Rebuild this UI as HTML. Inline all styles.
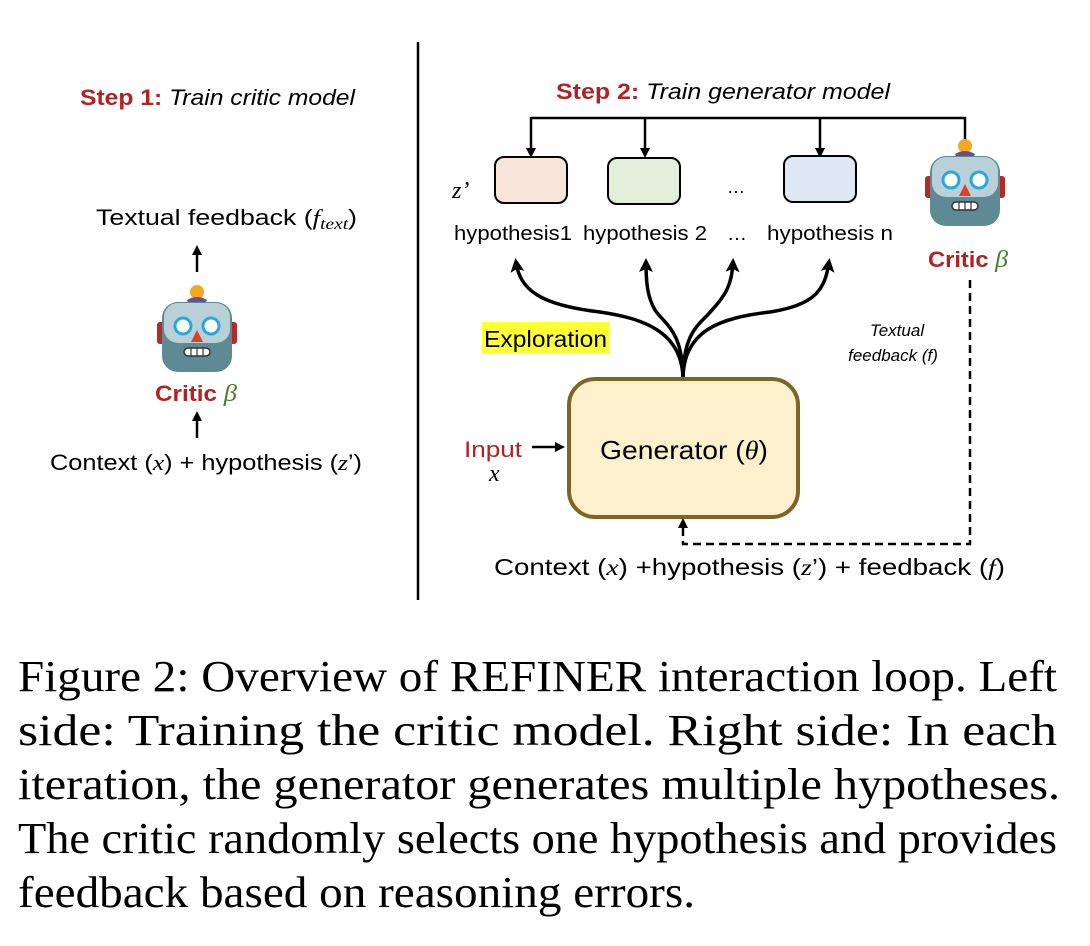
<!DOCTYPE html>
<html><head><meta charset="utf-8"><style>
html,body{margin:0;padding:0;background:#fff}
svg{display:block}
.s{font-family:"Liberation Sans",sans-serif}
.c{font-family:"Liberation Serif",serif;font-size:44px}
</style></head><body>
<svg width="1090" height="946" viewBox="0 0 1090 946" xmlns="http://www.w3.org/2000/svg">
<defs>
<marker id="ah" markerWidth="10" markerHeight="10" refX="7" refY="5" orient="auto" markerUnits="userSpaceOnUse"><path d="M0,0 L10,5 L0,10 z" fill="#000"/></marker>
<marker id="ah2" markerWidth="14" markerHeight="14" refX="10" refY="7" orient="auto" markerUnits="userSpaceOnUse"><path d="M0,0 L14,7 L0,14 L3,7 z" fill="#000"/></marker>
<g id="robot">
 <rect x="-40" y="-8" width="8" height="22" rx="3" fill="#b52a24"/>
 <rect x="32" y="-8" width="8" height="22" rx="3" fill="#b52a24"/>
 <circle cx="0" cy="-38" r="7" fill="#f5a623"/>
 <path d="M-10,-30 Q0,-36 10,-30 L8,-26 L-8,-26 z" fill="#6a4c93"/>
 <rect x="-35" y="-28" width="70" height="70" rx="16" fill="#5e8a96"/>
 <rect x="-33" y="-27" width="66" height="40" rx="14" fill="#b8d0d6"/>
 <circle cx="-14" cy="-4" r="8" fill="#fff" stroke="#29a8e0" stroke-width="3"/>
 <circle cx="14" cy="-4" r="8" fill="#fff" stroke="#29a8e0" stroke-width="3"/>
 <path d="M0,0 L6,12 L-6,12 z" fill="#d9412e"/>
 <rect x="-13" y="18" width="26" height="8" rx="4" fill="#fff" stroke="#333" stroke-width="1.5"/>
 <path d="M-6,18 V26 M0,18 V26 M6,18 V26" stroke="#333" stroke-width="1.2"/>
</g>
</defs>

<line x1="418" y1="42" x2="418" y2="600" stroke="#000" stroke-width="2.5"/>

<!-- Left -->
<text x="80" y="105" class="s" font-size="22" fill="#b22222" font-weight="bold" textLength="275" lengthAdjust="spacingAndGlyphs">Step 1: <tspan fill="#000" font-weight="normal" font-style="italic">Train critic model</tspan></text>
<text x="96" y="225" class="s" font-size="22" textLength="261" lengthAdjust="spacingAndGlyphs">Textual feedback (<tspan font-family="Liberation Serif" font-style="italic">f<tspan font-size="16" dy="4">text</tspan></tspan><tspan dy="-4">)</tspan></text>
<line x1="197" y1="272" x2="197" y2="248" stroke="#000" stroke-width="2.5" marker-end="url(#ah)"/>
<use href="#robot" transform="translate(197,330)"/>
<text x="155" y="401" class="s" font-size="22" font-weight="bold" fill="#b22222" textLength="82" lengthAdjust="spacingAndGlyphs">Critic <tspan font-family="Liberation Serif" font-style="italic" font-weight="normal" fill="#4b7a2b" font-size="24">β</tspan></text>
<line x1="197" y1="438" x2="197" y2="414" stroke="#000" stroke-width="2.5" marker-end="url(#ah)"/>
<text x="50" y="470" class="s" font-size="22" textLength="312" lengthAdjust="spacingAndGlyphs">Context (<tspan font-family="Liberation Serif" font-style="italic">x</tspan>) + hypothesis (<tspan font-family="Liberation Serif" font-style="italic">z</tspan>’)</text>

<!-- Right -->
<text x="556" y="99" class="s" font-size="22" fill="#b22222" font-weight="bold" textLength="334" lengthAdjust="spacingAndGlyphs">Step 2: <tspan fill="#000" font-weight="normal" font-style="italic">Train generator model</tspan></text>
<path d="M531,118 H965 V140" fill="none" stroke="#000" stroke-width="2.5"/>
<line x1="645" y1="118" x2="645" y2="155" stroke="#000" stroke-width="2.5" marker-end="url(#ah)"/>
<line x1="820" y1="118" x2="820" y2="155" stroke="#000" stroke-width="2.5" marker-end="url(#ah)"/>
<line x1="531" y1="117" x2="531" y2="155" stroke="#000" stroke-width="2.5" marker-end="url(#ah)"/>
<rect x="495" y="157" width="72" height="46" rx="9" fill="#f8e4d8" stroke="#000" stroke-width="2"/>
<rect x="608" y="158" width="72" height="46" rx="9" fill="#e3eedb" stroke="#000" stroke-width="2"/>
<rect x="784" y="156" width="72" height="46" rx="9" fill="#dfe8f3" stroke="#000" stroke-width="2"/>
<text x="452" y="198" font-family="Liberation Serif" font-style="italic" font-size="24">z’</text>
<text x="727" y="193" class="s" font-size="18">…</text>
<text x="454" y="240" class="s" font-size="20" textLength="118" lengthAdjust="spacingAndGlyphs">hypothesis1</text>
<text x="583" y="240" class="s" font-size="20" textLength="124" lengthAdjust="spacingAndGlyphs">hypothesis 2</text>
<text x="727" y="240" class="s" font-size="20">…</text>
<text x="767" y="240" class="s" font-size="20" textLength="126" lengthAdjust="spacingAndGlyphs">hypothesis n</text>
<use href="#robot" transform="translate(965,184)"/>
<text x="928" y="267" class="s" font-size="22" font-weight="bold" fill="#b22222" textLength="80" lengthAdjust="spacingAndGlyphs">Critic <tspan font-family="Liberation Serif" font-style="italic" font-weight="normal" fill="#4b7a2b" font-size="24">β</tspan></text>

<g fill="none" stroke="#000" stroke-width="3.5">
<path d="M683,380 C683,330 640,318 600,312 C540,305 520,290 516,262" marker-end="url(#ah2)"/>
<path d="M683,380 C683,330 665,325 655,310 C648,298 646,285 646,262" marker-end="url(#ah2)"/>
<path d="M683,380 C683,330 700,325 712,310 C725,296 732,285 733,262" marker-end="url(#ah2)"/>
<path d="M683,380 C683,330 720,318 770,312 C815,305 825,290 829,262" marker-end="url(#ah2)"/>
</g>
<rect x="482" y="322" width="128" height="32" fill="#ffff33"/>
<text x="484" y="347" class="s" font-size="23" textLength="123" lengthAdjust="spacingAndGlyphs">Exploration</text>
<text x="897" y="336" class="s" font-size="17" font-style="italic" text-anchor="middle">Textual</text>
<text x="893" y="361" class="s" font-size="17" font-style="italic" text-anchor="middle">feedback (f)</text>

<rect x="569" y="379" width="229" height="138" rx="26" fill="#fcf1cc" stroke="#7f6525" stroke-width="4"/>
<text x="600" y="459" class="s" font-size="26" textLength="168" lengthAdjust="spacingAndGlyphs">Generator (<tspan font-family="Liberation Serif" font-style="italic">θ</tspan>)</text>
<text x="464" y="457" class="s" font-size="22" fill="#b22222" textLength="58" lengthAdjust="spacingAndGlyphs">Input</text>
<text x="489" y="481" font-family="Liberation Serif" font-style="italic" font-size="24">x</text>
<line x1="532" y1="447" x2="562" y2="447" stroke="#000" stroke-width="2.5" marker-end="url(#ah)"/>
<path d="M970,280 V544 H683 V524" fill="none" stroke="#000" stroke-width="2.5" stroke-dasharray="8,5"/>
<path d="M678,528 L683,518 L688,528 z" fill="#000"/>
<text x="494" y="575" class="s" font-size="23" textLength="511" lengthAdjust="spacingAndGlyphs">Context (<tspan font-family="Liberation Serif" font-style="italic">x</tspan>) +hypothesis (<tspan font-family="Liberation Serif" font-style="italic">z</tspan>’)  + feedback (<tspan font-family="Liberation Serif" font-style="italic">f</tspan>)</text>

<!-- caption -->
<text x="18" y="691" class="c" textLength="1039" lengthAdjust="spacingAndGlyphs">Figure 2: Overview of REFINER interaction loop. Left</text>
<text x="18" y="745" class="c" textLength="1039" lengthAdjust="spacingAndGlyphs">side:  Training the critic model.  Right side:  In each</text>
<text x="18" y="799" class="c" textLength="1042" lengthAdjust="spacingAndGlyphs">iteration, the generator generates multiple hypotheses.</text>
<text x="18" y="853" class="c" textLength="1039" lengthAdjust="spacingAndGlyphs">The critic randomly selects one hypothesis and provides</text>
<text x="18" y="907" class="c" textLength="677" lengthAdjust="spacingAndGlyphs">feedback based on reasoning errors.</text>
</svg>
</body></html>
